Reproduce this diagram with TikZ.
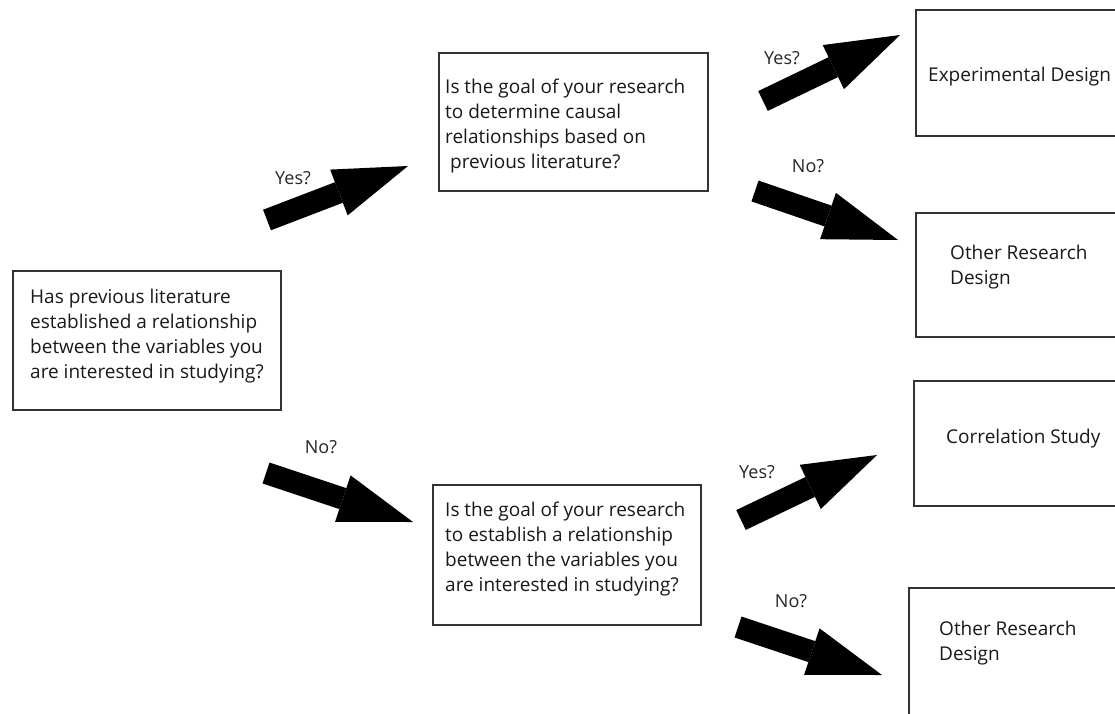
\documentclass[tikz,border=0pt]{standalone}
\usepackage{fontspec}
\setmainfont{Open Sans}
\usetikzlibrary{arrows.meta}
\newcommand\bxtext[4]{\raisebox{0pt}[\dimexpr\height+#2\relax][\dimexpr\depth+#3\relax]{\begin{minipage}[c]{#1}\raggedright #4\end{minipage}}}
\begin{document}
\begin{tikzpicture}[x=1pt,y=-1pt,
  box/.style={draw=black!80, line width=2.4pt, fill=white, inner sep=0pt, rectangle, anchor=north west,
    font=\fontsize{19pt}{25pt}\selectfont, text=black!90},
  lbl/.style={font=\fontsize{18pt}{20pt}\selectfont, text=black!85, inner sep=0pt},
  barrow/.style={line width=22pt, black, -{Triangle[width=49pt,length=74pt,line width=0pt]}}]
\useasboundingbox (0,0) rectangle (1115,713);
\clip (0,0) rectangle (1115,713);
\fill[white] (0,0) rectangle (1115,713);

% question boxes
\node[box, minimum width=268pt, minimum height=139pt] (q0) at (12,270)
  {\bxtext{234pt}{0pt}{10pt}{Has previous literature\\established a relationship\\between the variables you\\are interested in studying?}};
\node[box, minimum width=269pt, minimum height=138pt] (q1) at (438,52)
  {\bxtext{257pt}{8pt}{0pt}{Is the goal of your research\\to determine causal\\relationships based on\\\hspace*{5pt}previous literature?}};
\node[box, minimum width=268pt, minimum height=140pt] (q2) at (432,484)
  {\bxtext{244pt}{0pt}{13pt}{Is the goal of your research\\to establish a relationship\\between the variables you\\are interested in studying?}};

% outcome boxes (right edges run off the page)
\node[box, minimum width=240pt, minimum height=126pt] (r1) at (915,9)
  {\bxtext{216pt}{6pt}{0pt}{Experimental Design}};
\node[box, minimum width=240pt, minimum height=124pt] (r2) at (915,212)
  {\bxtext{172pt}{0pt}{17pt}{Other Research\\Design}};
\node[box, minimum width=240pt, minimum height=125pt] (r3) at (913,380)
  {\bxtext{176pt}{0pt}{11pt}{Correlation Study}};
\node[box, minimum width=240pt, minimum height=140pt] (r4) at (908,587)
  {\bxtext{180pt}{0pt}{31pt}{Other Research\\Design}};

% block arrows
\coordinate (At) at (267,220); \coordinate (Ah) at (408,166);
\coordinate (Bt) at (266,473); \coordinate (Bh) at (413,522);
\coordinate (Ct) at (763,101); \coordinate (Ch) at (900,35);
\coordinate (Dt) at (755,191); \coordinate (Dh) at (898,240);
\coordinate (Et) at (741,520); \coordinate (Eh) at (877,455);
\coordinate (Ft) at (738,627); \coordinate (Fh) at (882,675);
\draw[barrow] (At) -- (Ah);
\draw[barrow] (Bt) -- (Bh);
\draw[barrow] (Ct) -- (Ch);
\draw[barrow] (Dt) -- (Dh);
\draw[barrow] (Et) -- (Eh);
\draw[barrow] (Ft) -- (Fh);

% labels
\node[lbl] (lA) at (293,178) {Yes?};
\node[lbl] (lB) at (321,447) {No?};
\node[lbl] (lC) at (782,58) {Yes?};
\node[lbl] (lD) at (808,166) {No?};
\node[lbl] (lE) at (757,472) {Yes?};
\node[lbl] (lF) at (791,601) {No?};
\end{tikzpicture}
\end{document}
